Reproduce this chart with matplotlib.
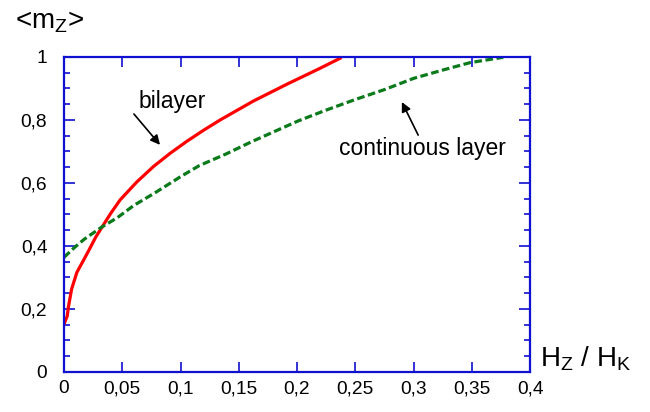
import numpy as np
import matplotlib
matplotlib.use('Agg')
import matplotlib.pyplot as plt
from matplotlib.ticker import FixedLocator, FixedFormatter, MultipleLocator

plt.rcParams['font.family'] = ['Liberation Sans', 'DejaVu Sans']
plt.rcParams['mathtext.fontset'] = 'custom'
plt.rcParams['mathtext.rm'] = 'Liberation Sans'

# bilayer (red)
hz_bi = [0, .0028, .0037, .0065, .011, .020, .0272, .0343, .040, .0481, .0624, .0767,
         .091, .1053, .1196, .134, .1625, .191, .2197, .237]
mz_bi = [.152, .178, .205, .263, .316, .377, .428, .470, .503, .546, .603, .652,
         .694, .732, .767, .800, .860, .913, .964, .996]

# continuous layer (green dashed)
hz_cont = [0, .0086, .0172, .0315, .0458, .060, .0773, .100, .116, .139, .161, .181,
           .201, .224, .250, .2755, .300, .3256, .3485, .377]
mz_cont = [.364, .394, .421, .458, .490, .529, .567, .620, .655, .692, .731, .764,
           .797, .830, .865, .897, .932, .959, .982, .999]

x_ticks = [0, .05, .1, .15, .2, .25, .3, .35, .4]
x_labels = ['0', '0,05', '0,1', '0,15', '0,2', '0,25', '0,3', '0,35', '0,4']
y_ticks = [0, .2, .4, .6, .8, 1]
y_labels = ['0', '0,2', '0,4', '0,6', '0,8', '1']

blue = '#1010d0'

fig = plt.figure(figsize=(6.5, 4.12), dpi=100)
ax = fig.add_axes([0.0985, 0.0971, 0.7169, 0.7646])

ax.plot(hz_bi, mz_bi, color='#ff0000', lw=2.3, solid_joinstyle='round')
ax.plot(hz_cont, mz_cont, color='#0a7a1a', lw=2.3, dashes=(2.4, 1.1))

ax.set_xlim(0, 0.4)
ax.set_ylim(0, 1)

ax.xaxis.set_major_locator(FixedLocator(x_ticks))
ax.xaxis.set_major_formatter(FixedFormatter(x_labels))
ax.yaxis.set_major_locator(FixedLocator(y_ticks))
ax.yaxis.set_major_formatter(FixedFormatter(y_labels))
ax.yaxis.set_minor_locator(MultipleLocator(0.05))

for s in ax.spines.values():
    s.set_color(blue)
    s.set_linewidth(1.6)
ax.tick_params(which='both', direction='in', top=True, right=True, color=blue, width=1.2,
               labelsize=13.8, labelcolor='black')
ax.tick_params(axis='x', which='major', length=7.5, pad=6)
ax.tick_params(axis='y', which='major', length=8, pad=12)
ax.tick_params(axis='y', which='minor', length=4.5)

# arrows to the curves
arrow = dict(arrowstyle='-|>', color='black', lw=1.2, mutation_scale=14, shrinkA=0, shrinkB=0)
ax.annotate('', xy=(.0824, .721), xytext=(.060, .819), arrowprops=arrow)
ax.text(.0927, .86, 'bilayer', fontsize=16.5, ha='center', va='center')
ax.annotate('', xy=(.290, .857), xytext=(.304, .752), arrowprops=arrow)
ax.text(.308, .708, 'continuous layer', fontsize=16.5, ha='center', va='center')

fig.text(0.023, 0.932, r'<m$_{\rm Z}$>', fontsize=20, ha='left', va='baseline')
fig.text(0.831, 0.110, r'H$_{\rm Z}$ / H$_{\rm K}$', fontsize=20, ha='left', va='baseline')

fig.savefig('out.png', dpi=100)
